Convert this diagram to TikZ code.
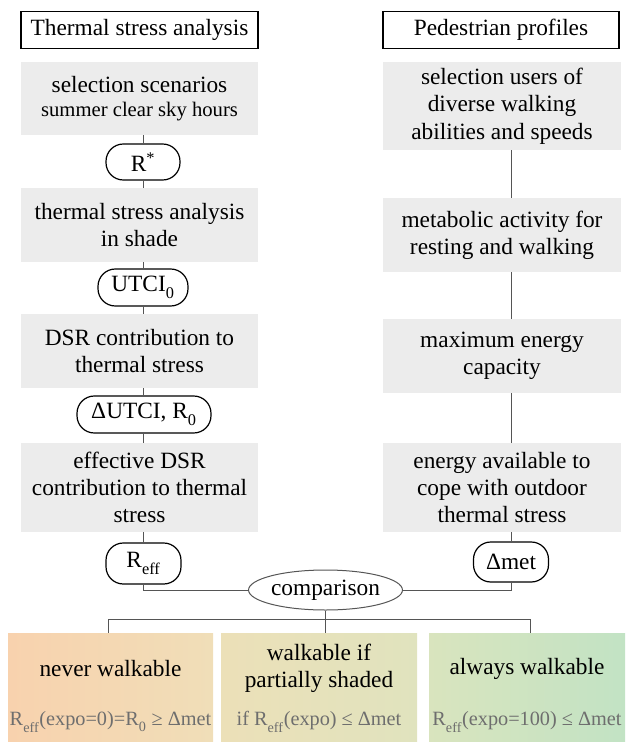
\documentclass[tikz,border=0pt]{standalone}
\usepackage{fontspec}
\setmainfont{Liberation Serif}
\usetikzlibrary{shapes.geometric}
\definecolor{boxgray}{RGB}{236,236,236}
\definecolor{linegray}{RGB}{85,85,85}
\definecolor{formgray}{RGB}{110,110,110}
\definecolor{cA}{RGB}{248,210,174}
\definecolor{cB}{RGB}{240,222,184}
\definecolor{cC}{RGB}{236,224,184}
\definecolor{cD}{RGB}{224,227,190}
\definecolor{cE}{RGB}{217,228,190}
\definecolor{cF}{RGB}{194,227,196}
\newcommand{\lowsub}[1]{\raisebox{-0.15em}{\textsubscript{#1}}}
\tikzset{
  wh/.style 2 args={minimum width=#1*0.75pt, minimum height=#2*0.75pt},
  base/.style={inner sep=0pt, align=center, font=\fontsize{17.5}{20.5}\selectfont},
  titlebox/.style={base, draw=black, line width=0.9pt},
  graybox/.style={base, fill=boxgray},
  roundbox/.style={base, draw=black, line width=0.9pt, rounded corners=13pt},
  conn/.style={draw=linegray, line width=0.75pt},
  formula/.style={base, text=formgray, font=\fontsize{15.2}{18}\selectfont},
}
\begin{document}
\begin{tikzpicture}[x=0.75pt,y=-0.75pt]
\useasboundingbox (0,0) rectangle (625,742);
% titles
\node[titlebox, wh={237}{37}] (tl) at (139.5,30) {Thermal stress analysis};
\node[titlebox, wh={236}{37}] (tr) at (501,30) {Pedestrian profiles};
% left column
\node[graybox, wh={237}{73}] (g1) at (139.5,98.5) {selection scenarios\\[-2pt]{\fontsize{15.5}{18}\selectfont summer clear sky hours}};
\node[roundbox, wh={74}{36}] (rs) at (143,162) {R\textsuperscript{*}};
\node[graybox, wh={237}{74}] (g2) at (139.5,225) {thermal stress analysis\\in shade};
\node[roundbox, wh={90}{37}] (u0) at (143,287.5) {UTCI\lowsub{0}};
\node[graybox, wh={237}{74}] (g3) at (139.5,351) {DSR contribution to\\thermal stress};
\node[roundbox, wh={134}{37}] (du) at (144,414.5) {ΔUTCI, R\lowsub{0}};
\node[graybox, wh={237}{89}] (g4) at (139.5,487.5) {effective DSR\\contribution to thermal\\stress};
\node[roundbox, wh={75}{41}] (re) at (143.5,563.5) {R\lowsub{eff}};
% right column
\node[graybox, wh={238}{88}] (rg1) at (502,106) {selection users of\\diverse walking\\abilities and speeds};
\node[graybox, wh={238}{74}] (rg2) at (502,235) {metabolic activity for\\resting and walking};
\node[graybox, wh={238}{74}] (rg3) at (502,356) {maximum energy\\capacity};
\node[graybox, wh={238}{89}] (rg4) at (502,487.5) {energy available to\\cope with outdoor\\thermal stress};
\node[roundbox, wh={75}{40}] (dm) at (511,562) {Δmet};
% comparison
\node[base, ellipse, draw=linegray, line width=0.75pt, wh={152}{40}] (cmp) at (325.5,590) {comparison};
% bottom boxes
\node[base, left color=cA, right color=cB, wh={205}{109}] (b1) at (110.5,687.5) {};
\node[base, left color=cC, right color=cD, wh={196}{109}] (b2) at (319,687.5) {};
\node[base, left color=cE, right color=cF, wh={196}{109}] (b3) at (527,687.5) {};
\node[base] (t1) at (110.5,669) {never walkable};
\node[base] (t2) at (319,668.5) {walkable if\\partially shaded};
\node[base] (t3) at (527,669) {always walkable};
\node[formula] (f1) at (110.5,722) {R\lowsub{eff}(expo=0)=R\lowsub{0} ≥ Δmet};
\node[formula] (f2) at (319,722) {if R\lowsub{eff}(expo) ≤ Δmet};
\node[formula] (f3) at (527,722) {R\lowsub{eff}(expo=100) ≤ Δmet};
% connectors left
\draw[conn] (rs.north) -- (rs.north |- g1.south);
\draw[conn] (rs.south) -- (rs.south |- g2.north);
\draw[conn] (u0.north) -- (u0.north |- g2.south);
\draw[conn] (u0.south) -- (u0.south |- g3.north);
\draw[conn] (u0.south |- du.north) -- (u0.south |- g3.south);
\draw[conn] (u0.south |- du.south) -- (u0.south |- g4.north);
\draw[conn] (re.north -| rs.north) -- (rs.north |- g4.south);
\draw[conn] (re.south -| rs.south) |- (cmp.west);
% connectors right
\draw[conn] (dm.north |- rg1.south) -- (dm.north |- rg2.north);
\draw[conn] (dm.north |- rg2.south) -- (dm.north |- rg3.north);
\draw[conn] (dm.north |- rg3.south) -- (dm.north |- rg4.north);
\draw[conn] (dm.north |- rg4.south) -- (dm.north);
\draw[conn] (dm.south) |- (cmp.east);
% bottom tree
\coordinate (hl) at (108,619);
\coordinate (hr) at (530,619);
\draw[conn] (hl |- b1.north) -- (hl) -- (hr) -- (hr |- b3.north);
\draw[conn] (cmp.south) -- (cmp.south |- hl);
\draw[conn] (cmp.south |- hl) -- (cmp.south |- b2.north);
\end{tikzpicture}
\end{document}
